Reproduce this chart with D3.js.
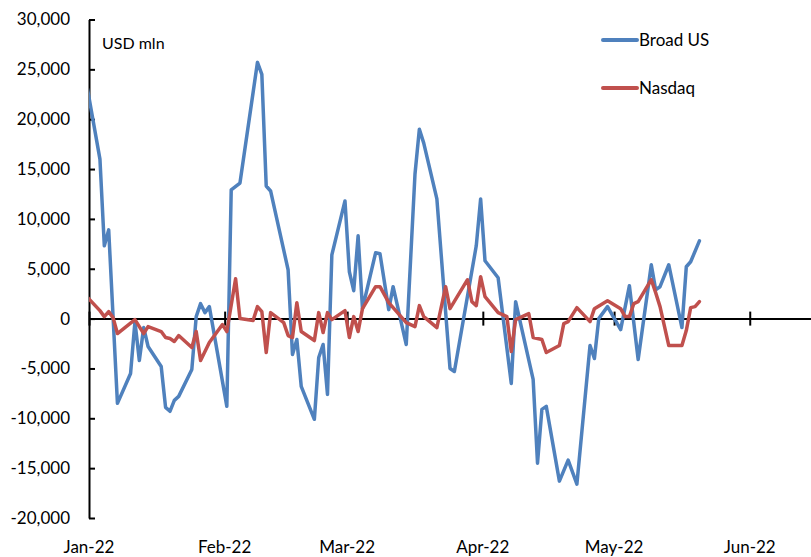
<!DOCTYPE html>
<html>
<head>
<meta charset="utf-8">
<script src="https://cdn.jsdelivr.net/npm/d3@7"></script>
<style>
  html, body { margin: 0; padding: 0; background: #fff; }
  svg { display: block; font-family: Lato, "Open Sans", sans-serif; }
</style>
</head>
<body>
<div id="chart"></div>
<script>
// daily fund flows, USD mln (business days, only turning points)
const broadDates = [
  '2021-12-31', '2022-01-03', '2022-01-04', '2022-01-05', '2022-01-07', '2022-01-10', '2022-01-11',
  '2022-01-12', '2022-01-13', '2022-01-14', '2022-01-17', '2022-01-18', '2022-01-19', '2022-01-20',
  '2022-01-21', '2022-01-24', '2022-01-25', '2022-01-26', '2022-01-27', '2022-01-28', '2022-02-01',
  '2022-02-02', '2022-02-04', '2022-02-08', '2022-02-09', '2022-02-10', '2022-02-11', '2022-02-15',
  '2022-02-16', '2022-02-17', '2022-02-18', '2022-02-21', '2022-02-22', '2022-02-23', '2022-02-24',
  '2022-02-25', '2022-02-28', '2022-03-01', '2022-03-02', '2022-03-03', '2022-03-04', '2022-03-07',
  '2022-03-08', '2022-03-10', '2022-03-11', '2022-03-14', '2022-03-16', '2022-03-17', '2022-03-18',
  '2022-03-21', '2022-03-24', '2022-03-25', '2022-03-30', '2022-03-31', '2022-04-01', '2022-04-04',
  '2022-04-07', '2022-04-08', '2022-04-12', '2022-04-13', '2022-04-14', '2022-04-15', '2022-04-18',
  '2022-04-20', '2022-04-22', '2022-04-25', '2022-04-26', '2022-04-27', '2022-04-29', '2022-05-02',
  '2022-05-04', '2022-05-06', '2022-05-09', '2022-05-10', '2022-05-11', '2022-05-13', '2022-05-16',
  '2022-05-17', '2022-05-18', '2022-05-20'
]
const broadValues = [
  23400, 16000, 7300, 8900, -8500, -5500, -300,
  -4200, -900, -2800, -4800, -8900, -9300, -8200,
  -7800, -5100, 200, 1500, 600, 1200, -8800,
  12900, 13600, 25700, 24500, 13300, 12800, 4900,
  -3600, -2100, -6800, -10100, -3900, -2600, -7600,
  6400, 11800, 4700, 2800, 8300, 1000, 6600,
  6500, 900, 3200, -2600, 14500, 19000, 17600,
  12000, -5000, -5300, 7300, 12000, 5800, 4100,
  -6500, 1700, -6100, -14500, -9100, -8800, -16300,
  -14200, -16600, -2700, -4000, 0, 1200, -1100,
  3300, -4100, 5400, 2900, 3200, 5400, -900,
  5200, 5700, 7800
]

const nasdaqDates = [
  '2021-12-31', '2022-01-03', '2022-01-04', '2022-01-05', '2022-01-06', '2022-01-07', '2022-01-11',
  '2022-01-13', '2022-01-14', '2022-01-17', '2022-01-18', '2022-01-19', '2022-01-20', '2022-01-21',
  '2022-01-24', '2022-01-25', '2022-01-26', '2022-01-28', '2022-01-31', '2022-02-01', '2022-02-03',
  '2022-02-04', '2022-02-07', '2022-02-08', '2022-02-09', '2022-02-10', '2022-02-11', '2022-02-14',
  '2022-02-15', '2022-02-16', '2022-02-17', '2022-02-18', '2022-02-21', '2022-02-22', '2022-02-23',
  '2022-02-24', '2022-02-25', '2022-02-28', '2022-03-01', '2022-03-02', '2022-03-03', '2022-03-04',
  '2022-03-07', '2022-03-08', '2022-03-10', '2022-03-14', '2022-03-15', '2022-03-16', '2022-03-17',
  '2022-03-18', '2022-03-21', '2022-03-23', '2022-03-24', '2022-03-28', '2022-03-29', '2022-03-30',
  '2022-03-31', '2022-04-01', '2022-04-04', '2022-04-06', '2022-04-07', '2022-04-08', '2022-04-11',
  '2022-04-12', '2022-04-14', '2022-04-15', '2022-04-18', '2022-04-19', '2022-04-20', '2022-04-22',
  '2022-04-25', '2022-04-26', '2022-04-29', '2022-05-02', '2022-05-03', '2022-05-04', '2022-05-05',
  '2022-05-06', '2022-05-09', '2022-05-10', '2022-05-11', '2022-05-13', '2022-05-16', '2022-05-17',
  '2022-05-18', '2022-05-19', '2022-05-20'
]
const nasdaqValues = [
  2200, 800, 200, 700, 100, -1500, -100,
  -1500, -800, -1300, -1900, -2000, -2300, -1700,
  -2900, -1300, -4200, -2400, -600, -1300, 4000,
  0, -200, 1200, 700, -3400, 600, -400,
  -1700, -1900, 1600, -1300, -2200, 600, -1400,
  600, -100, 800, -1900, 200, -1300, 1000,
  3200, 3200, 1600, -400, -600, -800, 1300,
  200, -900, 3200, 1000, 3900, 1700, 1300,
  4200, 2200, 600, 200, -3300, -100, 500,
  -1900, -2100, -3400, -2700, -500, -300, 1100,
  -300, 1000, 1800, 1000, 200, 200, 1500,
  1700, 3900, 2600, 1200, -2700, -2700, -1200,
  1100, 1200, 1700
]

const yTicks = [30000, 25000, 20000, 15000, 10000, 5000, 0, -5000, -10000, -15000, -20000]
const monthTicks = ['2022-01-01', '2022-02-01', '2022-03-01', '2022-04-01', '2022-05-01', '2022-06-01']
const seriesNames = ['Broad US', 'Nasdaq']
const seriesColors = ['#4F81BD', '#C0504D']

const width = 811
const height = 557
const plot = { left: 89, right: 811, top: 19.5, bottom: 518 }

const parse = d3.timeParse('%Y-%m-%d')
const x = d3.scaleTime()
    .domain([parse('2022-01-01'), parse('2022-06-15')])
    .range([plot.left, plot.right])
const y = d3.scaleLinear()
    .domain([-20000, 30000])
    .range([plot.bottom, plot.top])

const svg = d3.select('#chart').append('svg')
    .attr('width', width)
    .attr('height', height)

svg.append('defs').append('clipPath')
    .attr('id', 'plot-clip')
    .append('rect')
    .attr('x', plot.left)
    .attr('y', 0)
    .attr('width', plot.right - plot.left)
    .attr('height', height)

// y axis, ticks pointing into the plot
const fmt = d3.format(',')
svg.append('g')
    .attr('transform', 'translate(' + plot.left + ',0)')
    .call(d3.axisLeft(y)
        .tickValues(yTicks)
        .tickSizeInner(-6)
        .tickSizeOuter(0)
        .tickPadding(19)
        .tickFormat((d) => fmt(d).replace('\u2212', '-')))
    .call((g) => g.select('.domain').attr('stroke', '#000').attr('stroke-width', 2))
    .call((g) => g.selectAll('.tick line').attr('stroke', '#000').attr('stroke-width', 2))
    .call((g) => g.selectAll('.tick text')
        .attr('fill', '#000')
        .attr('font-size', 17)
        .attr('font-family', 'Lato, sans-serif'))

// x axis on the zero line, ticks crossing it
svg.append('g')
    .attr('transform', 'translate(0,' + y(0) + ')')
    .call(d3.axisBottom(x)
        .tickValues(monthTicks.map(parse))
        .tickSizeInner(7)
        .tickSizeOuter(0)
        .tickFormat(''))
    .call((g) => g.select('.domain').attr('stroke', '#000').attr('stroke-width', 2))
    .call((g) => g.selectAll('.tick line').attr('y1', -7).attr('stroke', '#000').attr('stroke-width', 2))

// month labels along the bottom
svg.append('g')
    .selectAll('text')
    .data(monthTicks.map(parse))
    .enter().append('text')
    .attr('x', (d) => x(d))
    .attr('y', 553)
    .attr('text-anchor', 'middle')
    .attr('font-size', 17)
    .attr('fill', '#000')
    .text(d3.timeFormat('%b-%y'))

svg.append('text')
    .attr('x', 102)
    .attr('y', 49)
    .attr('font-size', 16)
    .attr('fill', '#000')
    .text('USD mln')

// points sit in the middle of their day, as on an Excel date axis
const line = d3.line()
    .x((d) => x(d3.timeHour.offset(d.date, 12)))
    .y((d) => y(d.value))

const series = [
    broadDates.map((d, i) => ({ date: parse(d), value: broadValues[i] })),
    nasdaqDates.map((d, i) => ({ date: parse(d), value: nasdaqValues[i] }))
]

svg.append('g')
    .attr('clip-path', 'url(#plot-clip)')
    .selectAll('path')
    .data(series)
    .enter().append('path')
    .attr('d', line)
    .attr('fill', 'none')
    .attr('stroke', (d, i) => seriesColors[i])
    .attr('stroke-width', 3.5)
    .attr('stroke-linejoin', 'round')
    .attr('stroke-linecap', 'round')

// legend
const legend = svg.append('g')
    .selectAll('g')
    .data(seriesNames)
    .enter().append('g')
    .attr('transform', (d, i) => 'translate(603,' + (40 + i * 48) + ')')

legend.append('line')
    .attr('x1', 0)
    .attr('x2', 34)
    .attr('stroke', (d, i) => seriesColors[i])
    .attr('stroke-width', 4)
    .attr('stroke-linecap', 'round')

legend.append('text')
    .attr('x', 36)
    .attr('y', 6)
    .attr('font-size', 17)
    .attr('fill', '#000')
    .text((d) => d)
</script>
</body>
</html>
